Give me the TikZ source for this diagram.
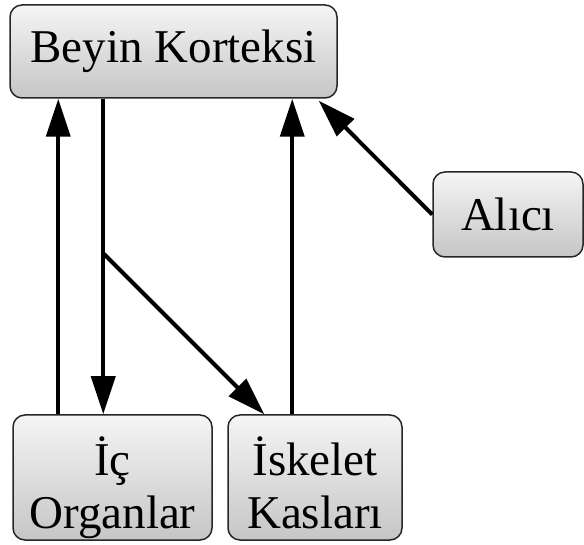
\documentclass[tikz,border=0pt]{standalone}
\usepackage{fontspec}
\setmainfont{Liberation Serif}
\usetikzlibrary{arrows.meta}

\begin{document}
\begin{tikzpicture}[x=1pt, y=1pt,
    box/.style={draw=black!85, line width=1.5pt, rounded corners=12pt,
        top color=gray!8, bottom color=gray!45, align=center,
        inner sep=0pt, font=\fontsize{47}{53}\selectfont},
    arrow/.style={line width=4pt, -{Triangle[length=38pt, width=24pt]}}] % Adjust the sizes as needed
            % Fix the page size
            \useasboundingbox (0,0) rectangle (584,544);
            % Draw the boxes
            \node[box, minimum width=327pt, minimum height=93pt] (beyin) at (173.5,492.5) {Beyin Korteksi};
            \node[box, minimum width=150pt, minimum height=85pt] (alici) at (508,329.5) {Alıcı};
            \node[box, minimum width=199pt, minimum height=125pt, text height=101pt, text depth=0pt] (ic) at (112.5,66.5) {İç\\Organlar};
            \node[box, minimum width=174pt, minimum height=125pt, text height=101pt, text depth=0pt] (iskelet) at (315,66.5) {İskelet\\Kasları};

            % Branch point on the descending line
            \coordinate (split) at (104,290);

            \draw[arrow] ([xshift=46pt]ic.north west) -- ([xshift=49pt]beyin.south west);
            \draw[arrow] ([xshift=94pt]beyin.south west) -- ([xshift=91pt]ic.north west);
            \draw[arrow] (split) -- ([xshift=37pt]iskelet.north west);
            \draw[arrow] ([xshift=65pt]iskelet.north west) -- ([xshift=283pt]beyin.south west);
            \draw[arrow] (alici.west) -- ([xshift=-19pt,yshift=-2pt]beyin.south east);
        \end{tikzpicture}
\end{document}
